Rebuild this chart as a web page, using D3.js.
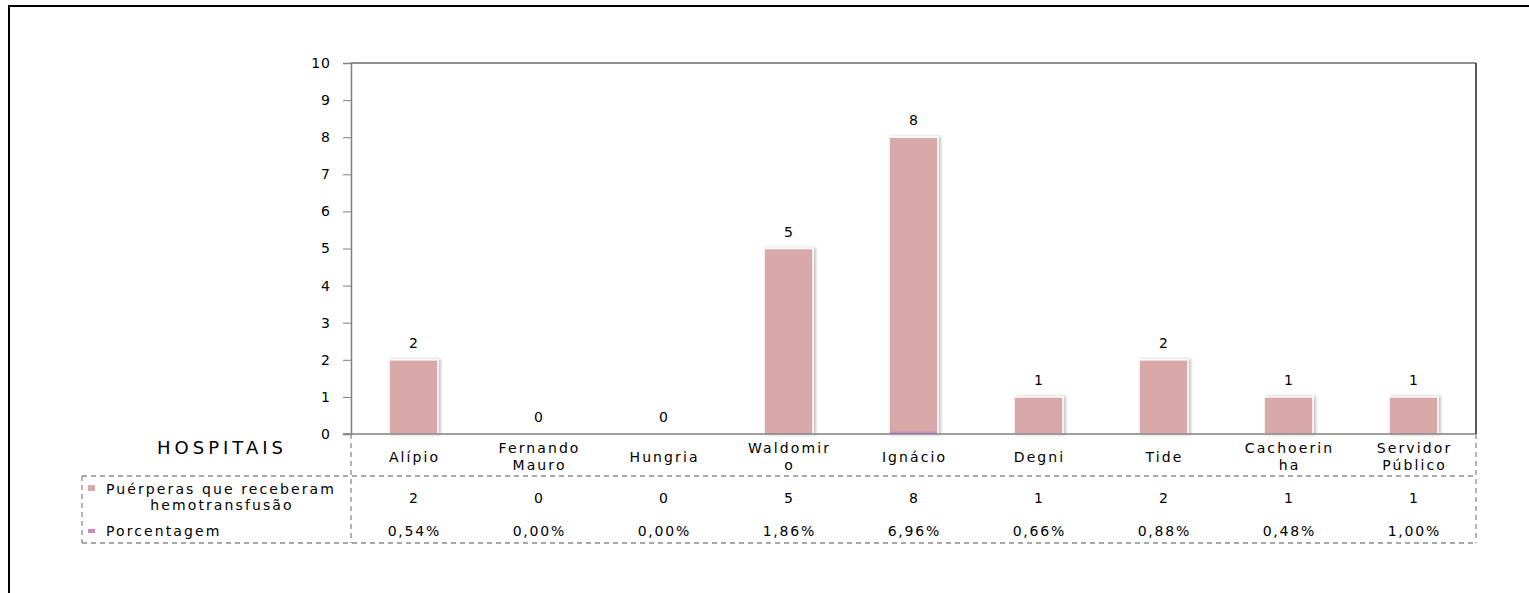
<!DOCTYPE html>
<html><head><meta charset="utf-8">
<script src="https://cdn.jsdelivr.net/npm/d3@7"></script>
<style>
body{margin:0;background:#fff;}
text{font-family:"DejaVu Sans",sans-serif;fill:#000;}
</style></head>
<body><svg id="c" width="1529" height="593"></svg>
<script>
const categories = [["Alípio"],["Fernando","Mauro"],["Hungria"],["Waldomir","o"],["Ignácio"],["Degni"],["Tide"],["Cachoerin","ha"],["Servidor","Público"]];
const puerperas = [2,0,0,5,8,1,2,1,1];
const porcentagem = [0.54,0.00,0.00,1.86,6.96,0.66,0.88,0.48,1.00];
const porcentagemLabels = ["0,54%","0,00%","0,00%","1,86%","6,96%","0,66%","0,88%","0,48%","1,00%"];
const yTicks = [0,1,2,3,4,5,6,7,8,9,10];
const seriesNames = [["Puérperas que receberam","hemotransfusão"],["Porcentagem"]];
const colors = ["#D9A9A9","#C98AC2"];

const FS = 14, LS = 2.1;
const svg = d3.select("#c");
const L=351, R=1476, T=63, B=434;
// outer frame
svg.append("rect").attr("x",9).attr("y",6).attr("width",1540).attr("height",620)
  .attr("fill","none").attr("stroke","#000").attr("stroke-width",2);

const x = d3.scaleBand().domain(d3.range(categories.length)).range([L,R]).padding(0);
const y = d3.scaleLinear().domain([0,10]).range([B,T]);
const cx = i => x(i)+x.bandwidth()/2;

// plot frame top/right
svg.append("line").attr("x1",L).attr("x2",R).attr("y1",T).attr("y2",T).attr("stroke","#222").attr("stroke-width",1);
svg.append("line").attr("x1",R).attr("x2",R).attr("y1",T).attr("y2",B).attr("stroke","#222").attr("stroke-width",1.5);

// bars
const bw = 49;
const defs = svg.append("defs");
const f = defs.append("filter").attr("id","sh").attr("x","-20%").attr("y","-20%").attr("width","140%").attr("height","140%");
f.append("feDropShadow").attr("dx",2).attr("dy",0).attr("stdDeviation",1.5).attr("flood-color","#000").attr("flood-opacity",0.25);

svg.selectAll("rect.b").data(puerperas).join("rect").attr("class","b")
  .attr("x",(d,i)=>cx(i)-bw/2).attr("width",bw)
  .attr("y",d=>y(d)).attr("height",d=>y(0)-y(d))
  .attr("fill",colors[0]).attr("stroke","#fff").attr("stroke-width",1.5)
  .attr("filter","url(#sh)")
  .style("display",d=>d>0?null:"none");
// porcentagem (tiny values)
svg.selectAll("rect.p").data(porcentagem).join("rect").attr("class","p")
  .attr("x",(d,i)=>cx(i)-bw/2+1).attr("width",bw-2)
  .attr("y",d=>y(d/100)).attr("height",d=>y(0)-y(d/100))
  .attr("fill",colors[1]);

// value labels
svg.selectAll("text.v").data(puerperas).join("text").attr("class","v")
  .attr("x",(d,i)=>cx(i)).attr("y",d=>y(d)-12)
  .attr("text-anchor","middle").attr("font-size",FS).text(d=>d);

// y axis
const ya = svg.append("g").attr("transform",`translate(${L},0)`)
  .call(d3.axisLeft(y).tickValues(yTicks).tickSize(8).tickPadding(12));
ya.select(".domain").attr("stroke","#808080").attr("stroke-width",1.5);
ya.selectAll(".tick line").attr("stroke","#808080");
ya.selectAll(".tick text").attr("font-size",FS).attr("font-family","DejaVu Sans").attr("fill","#000").attr("letter-spacing",1);

// x axis baseline
svg.append("line").attr("x1",L-8).attr("x2",R).attr("y1",B).attr("y2",B).attr("stroke","#808080").attr("stroke-width",1.5);

// category labels
const cg = svg.selectAll("g.cat").data(categories).join("g").attr("class","cat");
cg.each(function(lines,i){
  const g=d3.select(this);
  const y0 = lines.length===1?462:453;
  lines.forEach((t,j)=>g.append("text").attr("x",cx(i)+LS/2).attr("y",y0+j*17)
    .attr("text-anchor","middle").attr("font-size",FS).attr("letter-spacing",LS).text(t));
});

svg.append("text").attr("x",220+2).attr("y",454).attr("text-anchor","middle")
  .attr("font-size",18).attr("letter-spacing",4).text("HOSPITAIS");

// data table dashed lines
const dash="5,4", dc="#8c8c8c";
const tl=(x1,y1,x2,y2)=>svg.append("line").attr("x1",x1).attr("y1",y1).attr("x2",x2).attr("y2",y2)
  .attr("stroke",dc).attr("stroke-width",1.3).attr("stroke-dasharray",dash);
tl(82,476,R,476);
tl(82,543,R,543);
tl(82,476,82,543);
tl(L,434,L,543);
tl(R,434,R,543);

// legend rows
svg.append("rect").attr("x",88).attr("y",485).attr("width",7).attr("height",6).attr("fill",colors[0]);
svg.append("text").attr("x",106).attr("y",494).attr("font-size",FS).attr("letter-spacing",LS).text(seriesNames[0][0]);
svg.append("text").attr("x",222).attr("y",510).attr("text-anchor","middle").attr("font-size",FS).attr("letter-spacing",LS).text(seriesNames[0][1]);
svg.append("rect").attr("x",88).attr("y",529).attr("width",7).attr("height",4).attr("fill",colors[1]);
svg.append("text").attr("x",106).attr("y",536).attr("font-size",FS).attr("letter-spacing",LS).text(seriesNames[1][0]);

svg.selectAll("text.r1").data(puerperas).join("text").attr("class","r1")
  .attr("x",(d,i)=>cx(i)).attr("y",503).attr("text-anchor","middle").attr("font-size",FS).text(d=>d);
svg.selectAll("text.r2").data(porcentagemLabels).join("text").attr("class","r2")
  .attr("x",(d,i)=>cx(i)+0.9).attr("y",536).attr("text-anchor","middle").attr("font-size",FS).attr("letter-spacing",1.8).text(d=>d);
</script></body></html>
